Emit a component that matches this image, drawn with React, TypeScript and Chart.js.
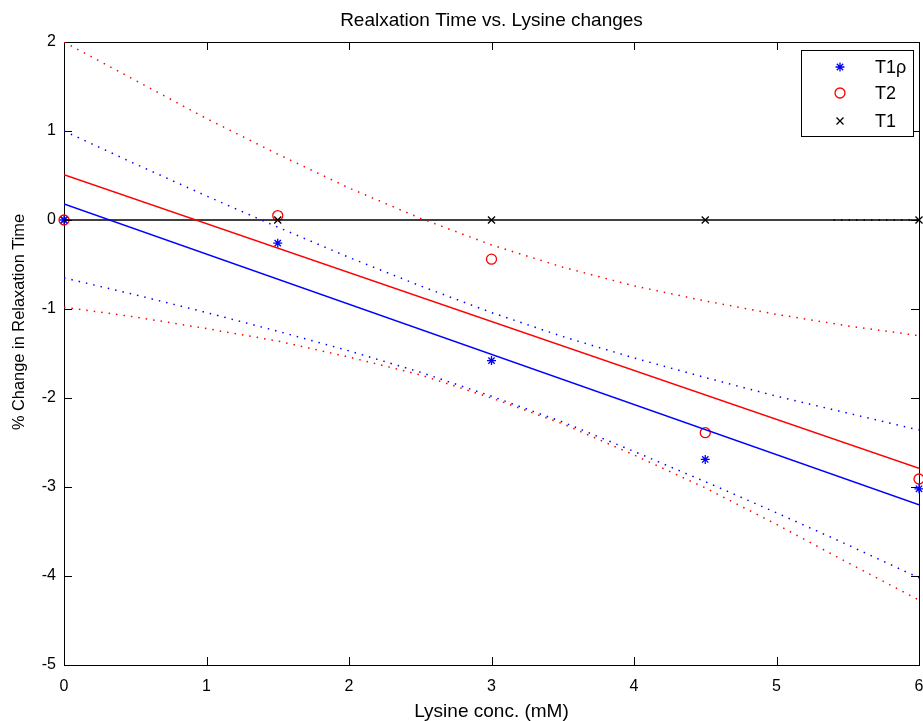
import React, { useEffect, useRef } from 'react';
import { Chart, registerables } from 'chart.js';

Chart.register(...registerables);

// ---- data ----
const concentrations = [0, 1.5, 3, 4.5, 6];
const t1rhoValues = [0, -0.26, -1.58, -2.69, -3.02];
const t2Values = [0, 0.05, -0.44, -2.39, -2.91];
const t1Values = [0, 0, 0, 0, 0];

const fitX = [0, 6];
const t1rhoFit = [0.18, -3.2];
const t2Fit = [0.51, -2.79];
const t1Fit = [0, 0];

const bandX = [0, 0.5, 1, 1.5, 2, 2.5, 3, 3.5, 4, 4.5, 5, 5.5, 6];
const t1rhoUpper = [1.0, 0.63, 0.27, -0.08, -0.42, -0.74, -1.04, -1.31, -1.55, -1.77, -1.98, -2.17, -2.36];
const t1rhoLower = [-0.65, -0.84, -1.04, -1.25, -1.47, -1.71, -1.98, -2.27, -2.6, -2.94, -3.29, -3.65, -4.02];
const t2Upper = [2.0, 1.57, 1.14, 0.74, 0.36, 0.02, -0.28, -0.53, -0.74, -0.91, -1.06, -1.19, -1.3];
const t2Lower = [-0.98, -1.09, -1.22, -1.36, -1.54, -1.74, -2.0, -2.29, -2.64, -3.01, -3.42, -3.85, -4.27];
const t1BandX = [5.4, 6];
const t1Band = [0, 0];

const xTicks = [0, 1, 2, 3, 4, 5, 6];
const yTicks = [-5, -4, -3, -2, -1, 0, 1, 2];

const legendLabels = ['T1\u03c1', 'T2', 'T1'];
const chartTitle = 'Realxation Time vs. Lysine changes';
const xTitle = 'Lysine conc. (mM)';
const yTitle = '% Change in Relaxation Time';

const FONT = '"Liberation Sans", Arial, Helvetica, sans-serif';
const BLUE = '#0000ff';
const RED = '#ff0000';
const BLACK = '#000000';

const pts = (xs: number[], ys: number[]) => xs.map((x, i) => ({ x, y: ys[i] }));

function drawMarker(ctx: CanvasRenderingContext2D, kind: string, x: number, y: number, color: string) {
  ctx.save();
  ctx.strokeStyle = color;
  ctx.lineWidth = 1.3;
  ctx.beginPath();
  if (kind === 'star') {
    const r = 4.5;
    for (let k = 0; k < 4; k++) {
      const a = (k * Math.PI) / 4;
      ctx.moveTo(x - r * Math.cos(a), y - r * Math.sin(a));
      ctx.lineTo(x + r * Math.cos(a), y + r * Math.sin(a));
    }
  } else if (kind === 'circle') {
    ctx.arc(x, y, 5, 0, Math.PI * 2);
  } else {
    const r = 3.5;
    ctx.moveTo(x - r, y - r);
    ctx.lineTo(x + r, y + r);
    ctx.moveTo(x + r, y - r);
    ctx.lineTo(x - r, y + r);
  }
  ctx.stroke();
  ctx.restore();
}

const framePlugin = {
  id: 'matlabFrame',
  beforeDatasetsDraw(chart: any) {
    const { ctx, chartArea, scales } = chart;
    const { left, right, top, bottom } = chartArea;
    ctx.save();
    ctx.strokeStyle = BLACK;
    ctx.lineWidth = 1;
    ctx.strokeRect(Math.round(left) + 0.5, Math.round(top) + 0.5, Math.round(right - left), Math.round(bottom - top));
    ctx.beginPath();
    const tl = 8;
    xTicks.forEach((v) => {
      const px = Math.round(scales.x.getPixelForValue(v)) + 0.5;
      ctx.moveTo(px, bottom);
      ctx.lineTo(px, bottom - tl);
      ctx.moveTo(px, top);
      ctx.lineTo(px, top + tl);
    });
    yTicks.forEach((v) => {
      const py = Math.round(scales.y.getPixelForValue(v)) + 0.5;
      ctx.moveTo(left, py);
      ctx.lineTo(left + tl, py);
      ctx.moveTo(right, py);
      ctx.lineTo(right - tl, py);
    });
    ctx.stroke();
    ctx.restore();
  },
  afterDraw(chart: any) {
    const { ctx, chartArea } = chart;
    ctx.save();
    ctx.fillStyle = BLACK;
    // title
    ctx.font = `19px ${FONT}`;
    ctx.textAlign = 'center';
    ctx.textBaseline = 'middle';
    ctx.fillText(chartTitle, (chartArea.left + chartArea.right) / 2, 21);
    // y axis title
    ctx.save();
    ctx.translate(19, 322);
    ctx.rotate(-Math.PI / 2);
    ctx.font = `16.4px ${FONT}`;
    ctx.fillText(yTitle, 0, 0);
    ctx.restore();
    // legend
    const bx = 801.5, by = 50.5, bw = 112, bh = 86;
    ctx.fillStyle = '#ffffff';
    ctx.fillRect(bx, by, bw, bh);
    ctx.strokeStyle = BLACK;
    ctx.lineWidth = 1;
    ctx.strokeRect(bx, by, bw, bh);
    const rows = [67, 93, 121];
    const kinds = ['star', 'circle', 'cross'];
    const colors = [BLUE, RED, BLACK];
    ctx.font = `18px ${FONT}`;
    ctx.textAlign = 'left';
    ctx.textBaseline = 'middle';
    rows.forEach((ry, i) => {
      drawMarker(ctx, kinds[i], 840, ry, colors[i]);
      ctx.fillStyle = BLACK;
      ctx.fillText(legendLabels[i], 875, ry + 1);
    });
    ctx.restore();
  },
};

export default function App() {
  const canvasRef = useRef<HTMLCanvasElement | null>(null);

  useEffect(() => {
    document.body.style.margin = '0';
    const canvas = canvasRef.current;
    if (!canvas) return;

    const band = (data: number[], color: string, xs: number[] = bandX) => ({
      label: '',
      data: pts(xs, data),
      showLine: true,
      borderColor: color,
      borderWidth: 1.5,
      borderDash: [1.5, 6],
      pointRadius: 0,
      fill: false,
    });
    const fit = (data: number[], color: string) => ({
      label: '',
      data: pts(fitX, data),
      showLine: true,
      borderColor: color,
      borderWidth: 1.5,
      pointRadius: 0,
      fill: false,
    });
    const markers = (data: number[], color: string, style: string, radius: number) => ({
      label: '',
      data: pts(concentrations, data),
      showLine: false,
      pointStyle: style,
      pointRadius: radius,
      pointBorderColor: color,
      pointBackgroundColor: 'rgba(0,0,0,0)',
      pointBorderWidth: 1.3,
      clip: 12,
    });

    const chart = new Chart(canvas, {
      type: 'scatter',
      data: {
        datasets: [
          band(t1rhoUpper, BLUE),
          band(t1rhoLower, BLUE),
          band(t2Upper, RED),
          band(t2Lower, RED),
          band(t1Band, BLACK, t1BandX),
          fit(t1rhoFit, BLUE),
          fit(t2Fit, RED),
          fit(t1Fit, BLACK),
          markers(t1rhoValues, BLUE, 'star', 4.5),
          markers(t2Values, RED, 'circle', 5),
          markers(t1Values, BLACK, 'crossRot', 5),
        ] as any,
      },
      options: {
        responsive: false,
        animation: false,
        events: [],
        layout: { autoPadding: false, padding: { top: 42, right: 4, left: 0, bottom: 0 } },
        plugins: {
          legend: { display: false },
          tooltip: { enabled: false },
          title: { display: false },
        },
        scales: {
          x: {
            type: 'linear',
            min: 0,
            max: 6,
            afterBuildTicks: (s: any) => {
              s.ticks = xTicks.map((v) => ({ value: v }));
            },
            afterFit: (s: any) => {
              s.height = 56;
              s.paddingLeft = 0;
              s.paddingRight = 0;
            },
            grid: { display: false, drawTicks: false },
            border: { display: false },
            ticks: {
              color: BLACK,
              font: { family: FONT, size: 16 },
              padding: 12,
              maxRotation: 0,
              autoSkip: false,
              callback: (v: any) => String(v),
            },
            title: {
              display: true,
              text: xTitle,
              color: BLACK,
              font: { family: FONT, size: 19, lineHeight: 1 },
              padding: { top: 0, bottom: 0 },
            },
          },
          y: {
            type: 'linear',
            min: -5,
            max: 2,
            afterBuildTicks: (s: any) => {
              s.ticks = yTicks.map((v) => ({ value: v }));
            },
            afterFit: (s: any) => {
              s.width = 64;
              s.paddingTop = 0;
              s.paddingBottom = 0;
            },
            grid: { display: false, drawTicks: false },
            border: { display: false },
            ticks: {
              color: BLACK,
              font: { family: FONT, size: 16 },
              padding: 8,
              autoSkip: false,
              callback: (v: any) => String(v),
            },
          },
        },
      } as any,
      plugins: [framePlugin],
    });

    return () => chart.destroy();
  }, []);

  return (
    <div style={{ position: 'absolute', left: 0, top: 0, width: 923, height: 721, background: '#fff' }}>
      <canvas ref={canvasRef} width={923} height={721} style={{ display: 'block' }} />
    </div>
  );
}
